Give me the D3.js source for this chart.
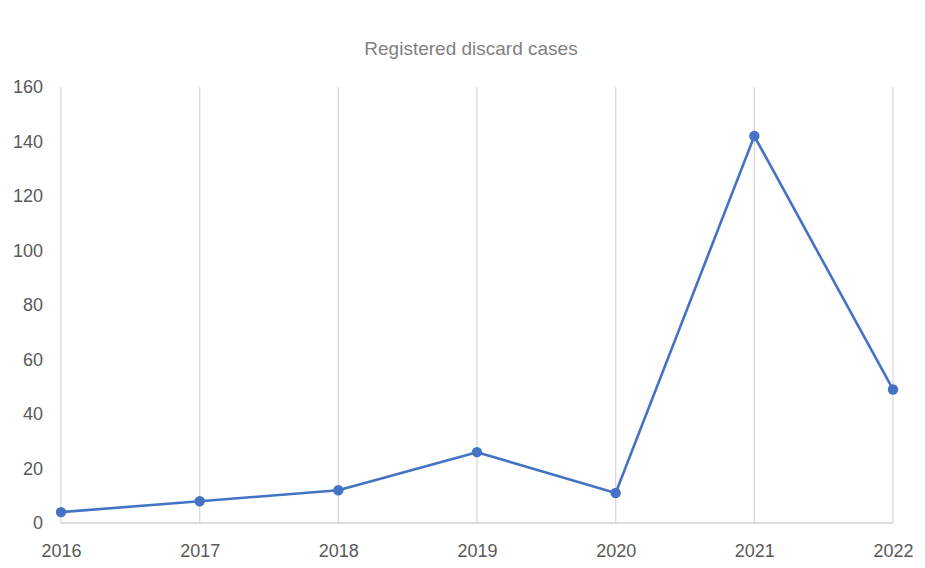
<!DOCTYPE html>
<html><head><meta charset="utf-8">
<script src="https://cdn.jsdelivr.net/npm/d3@7"></script>
<style>body{margin:0;background:#fff}svg{display:block}</style>
</head><body>
<svg id="c" width="925" height="568"></svg>
<script>
const years = ["2016","2017","2018","2019","2020","2021","2022"];
const cases = [4, 8, 12, 26, 11, 142, 49];
const yTicks = [0,20,40,60,80,100,120,140,160];
const title = "Registered discard cases";

const svg = d3.select("#c");
const font = "Liberation Sans, Arial, sans-serif";
const m = {left:61, right:893, top:87, bottom:523};
const x = d3.scalePoint().domain(years).range([m.left, m.right]);
const y = d3.scaleLinear().domain([0,160]).range([m.bottom, m.top]);

// vertical gridlines
svg.append("g").selectAll("line").data(years).join("line")
  .attr("x1", d=>x(d)).attr("x2", d=>x(d))
  .attr("y1", y(160)).attr("y2", y(0))
  .attr("stroke", "#d9d9d9").attr("stroke-width", 1.3);

// bottom axis line
svg.append("line").attr("x1", m.left).attr("x2", m.right)
  .attr("y1", y(0)).attr("y2", y(0)).attr("stroke", "#d0d0d0").attr("stroke-width", 1.3);

// y tick labels
const yAxis = d3.axisLeft(y).tickValues(yTicks).tickSize(0).tickPadding(18);
const gy = svg.append("g").attr("transform", `translate(${m.left},0)`).call(yAxis);
gy.select(".domain").remove();
gy.selectAll("text").attr("font-family", font).attr("font-size", 18).attr("fill", "#595959");

// x tick labels
const xAxis = d3.axisBottom(x).tickSize(0).tickPadding(21);
const gx = svg.append("g").attr("transform", `translate(0,${m.bottom})`).call(xAxis);
gx.select(".domain").remove();
gx.selectAll("text").attr("font-family", font).attr("font-size", 18).attr("fill", "#595959");

// title
svg.append("text").attr("x", 471).attr("y", 55).attr("text-anchor", "middle")
  .attr("font-family", font).attr("font-size", 19).attr("fill", "#7f7f7f").text(title);

const data = years.map((d,i)=>({year:d, v:cases[i]}));
svg.append("path").datum(data)
  .attr("fill","none").attr("stroke","#4472c4").attr("stroke-width",2.6)
  .attr("stroke-linejoin","round")
  .attr("d", d3.line().x(d=>x(d.year)).y(d=>y(d.v)));
svg.append("g").selectAll("circle").data(data).join("circle")
  .attr("cx", d=>x(d.year)).attr("cy", d=>y(d.v)).attr("r", 5.2).attr("fill", "#4472c4");
</script>
</body></html>
